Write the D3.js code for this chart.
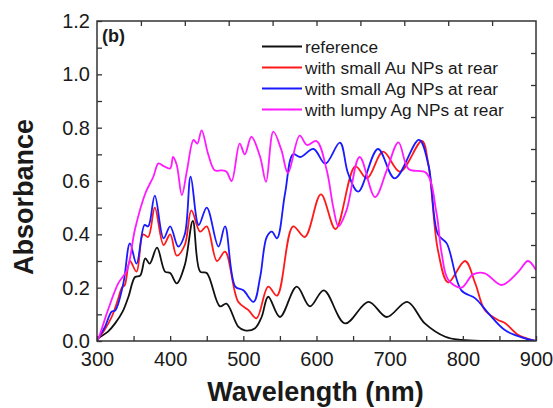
<!DOCTYPE html>
<html>
<head>
<meta charset="utf-8">
<script src="https://cdn.jsdelivr.net/npm/d3@7"></script>
<style>
  html, body { margin: 0; padding: 0; background: #fff; }
  svg { display: block; }
  text { font-family: "Liberation Sans", Arial, sans-serif; fill: #1a1a1a; }
</style>
</head>
<body>
<svg id="chart" width="553" height="408"></svg>
<script>
// ---- data ----
const seriesNames = ["reference", "with small Au NPs at rear", "with small Ag NPs at rear", "with lumpy Ag NPs at rear"];
const seriesColors = ["#111111", "#ff1a1a", "#1a1aff", "#ff1aff"];

const refWl  = [300,302,315,325,335,343,352,359,366,372,382,393,400,409,420,431,441,450,468,477,493,502,516,525,534,550,573,591,610,639,671,696,724,748,776,798,830,900];
const refAbs = [0.0,0.01,0.035,0.067,0.11,0.166,0.24,0.245,0.31,0.29,0.35,0.26,0.255,0.216,0.285,0.45,0.26,0.255,0.13,0.14,0.054,0.04,0.048,0.09,0.166,0.09,0.204,0.13,0.19,0.066,0.147,0.09,0.147,0.066,0.016,0.004,0.0,0.0];

const auWl  = [300,302,310,320,328,334,338,345,354,363,370,379,391,400,409,420,429,441,450,464,475,493,507,518,534,546,568,584,606,626,653,669,691,714,744,753,766,780,803,817,830,848,858,876,894,900];
const auAbs = [0.0,0.01,0.04,0.09,0.15,0.2,0.21,0.30,0.26,0.40,0.39,0.50,0.36,0.40,0.32,0.36,0.49,0.41,0.43,0.30,0.335,0.147,0.116,0.085,0.204,0.17,0.43,0.39,0.55,0.42,0.655,0.61,0.71,0.635,0.75,0.66,0.34,0.22,0.30,0.216,0.116,0.079,0.067,0.022,0.004,0.0];

const agWl  = [300,302,311,320,325,336,345,354,365,370,379,391,400,411,420,428,439,450,466,475,489,500,514,523,532,539,546,557,568,578,596,612,632,643,657,684,707,740,753,766,778,798,817,835,858,885,900];
const agAbs = [0.0,0.01,0.054,0.11,0.115,0.216,0.366,0.29,0.435,0.43,0.545,0.385,0.43,0.354,0.40,0.616,0.435,0.50,0.354,0.43,0.204,0.19,0.147,0.24,0.39,0.41,0.385,0.553,0.70,0.69,0.72,0.665,0.744,0.63,0.56,0.72,0.61,0.754,0.66,0.40,0.366,0.19,0.16,0.104,0.04,0.01,0.0];

const lumpyWl  = [300,302,315,329,341,352,366,377,384,391,400,404,409,416,423,432,437,443,452,461,470,477,484,495,502,511,523,531,541,552,561,577,587,600,614,623,630,641,659,680,696,712,726,750,764,771,780,798,814,830,853,876,889,900];
const lumpyAbs = [0.0,0.01,0.116,0.216,0.266,0.42,0.553,0.616,0.666,0.656,0.647,0.69,0.66,0.547,0.64,0.754,0.74,0.79,0.70,0.64,0.64,0.635,0.60,0.74,0.70,0.766,0.69,0.597,0.785,0.716,0.63,0.77,0.735,0.75,0.64,0.50,0.43,0.49,0.69,0.54,0.64,0.745,0.645,0.63,0.48,0.33,0.23,0.20,0.25,0.254,0.21,0.26,0.30,0.266];

const xTickValues = [300,350,400,450,500,550,600,650,700,750,800,850,900];
const xTickLabels = ["300","","400","","500","","600","","700","","800","","900"];
const yTickValues = [0.0,0.1,0.2,0.3,0.4,0.5,0.6,0.7,0.8,0.9,1.0,1.1,1.2];
const yTickLabels = ["0.0","","0.2","","0.4","","0.6","","0.8","","1.0","","1.2"];
const frameTicks = [1,2,3,4,5,6,7,8,9];

const xTitle = "Wavelength (nm)";
const yTitle = "Absorbance";
const panelLabel = "(b)";

// ---- layout ----
const L = 97, R = 536, T = 21, B = 341;
const svg = d3.select("#chart");

const x = d3.scaleLinear().domain([300, 900]).range([L, R]);
const y = d3.scaleLinear().domain([0, 1.2]).range([B, T]);
const xTop = d3.scaleLinear().domain([0, 10]).range([L, R]);
const yRight = d3.scaleLinear().domain([0, 10]).range([B, T]);

svg.append("defs").append("clipPath").attr("id", "clip")
  .append("rect").attr("x", L).attr("y", T).attr("width", R - L).attr("height", B - T);

const series = [
  { wl: refWl, abs: refAbs },
  { wl: auWl, abs: auAbs },
  { wl: agWl, abs: agAbs },
  { wl: lumpyWl, abs: lumpyAbs }
];

const line = d3.line()
  .x(d => x(d[0]))
  .y(d => y(d[1]))
  .curve(d3.curveCatmullRom.alpha(0.5));

const plot = svg.append("g").attr("clip-path", "url(#clip)");
series.forEach((s, i) => {
  const pts = s.wl.map((w, j) => [w, s.abs[j]]);
  plot.append("path")
    .attr("d", line(pts))
    .attr("fill", "none")
    .attr("stroke", seriesColors[i])
    .attr("stroke-width", 1.8)
    .attr("stroke-linejoin", "round");
});

// ---- axes ----
const axisColor = "#333";
const styleAxis = g => {
  g.select(".domain").remove();
  g.selectAll(".tick line").attr("stroke", axisColor).attr("stroke-width", 1.3);
  g.selectAll(".tick text").attr("fill", "#1a1a1a").style("font-size", "20px")
    .style("font-family", '"Liberation Sans", Arial, sans-serif');
};

svg.append("g").attr("transform", `translate(0,${B})`)
  .call(d3.axisBottom(x).tickValues(xTickValues)
    .tickFormat((d, i) => xTickLabels[i]).tickSizeInner(-5).tickSizeOuter(0).tickPadding(11))
  .call(styleAxis);

svg.append("g").attr("transform", `translate(${L},0)`)
  .call(d3.axisLeft(y).tickValues(yTickValues)
    .tickFormat((d, i) => yTickLabels[i]).tickSizeInner(-5).tickSizeOuter(0).tickPadding(7))
  .call(styleAxis);

svg.append("g").attr("transform", `translate(0,${T})`)
  .call(d3.axisTop(xTop).tickValues(frameTicks).tickFormat("").tickSizeInner(-5).tickSizeOuter(0))
  .call(styleAxis);

svg.append("g").attr("transform", `translate(${R},0)`)
  .call(d3.axisRight(yRight).tickValues(frameTicks).tickFormat("").tickSizeInner(-5).tickSizeOuter(0))
  .call(styleAxis);

svg.append("rect")
  .attr("x", L).attr("y", T).attr("width", R - L).attr("height", B - T)
  .attr("fill", "none").attr("stroke", axisColor).attr("stroke-width", 1.5);

// ---- titles ----
svg.append("text")
  .attr("x", (L + R) / 2 - 1).attr("y", 401)
  .attr("text-anchor", "middle")
  .style("font-size", "27px").style("font-weight", "bold")
  .text(xTitle);

svg.append("text")
  .attr("transform", "translate(33,197) rotate(-90)")
  .attr("text-anchor", "middle")
  .style("font-size", "27px").style("font-weight", "bold")
  .text(yTitle);

svg.append("text")
  .attr("x", 102).attr("y", 42)
  .style("font-size", "18px").style("font-weight", "bold")
  .text(panelLabel);

// ---- legend ----
const legY0 = 46.5, legDy = 21;
seriesNames.forEach((name, i) => {
  const yy = legY0 + i * legDy;
  svg.append("line")
    .attr("x1", 262).attr("x2", 302).attr("y1", yy).attr("y2", yy)
    .attr("stroke", seriesColors[i]).attr("stroke-width", 1.8);
  svg.append("text")
    .attr("x", 305).attr("y", yy).attr("dy", "0.35em")
    .style("font-size", "17.3px")
    .text(name);
});
</script>
</body>
</html>
